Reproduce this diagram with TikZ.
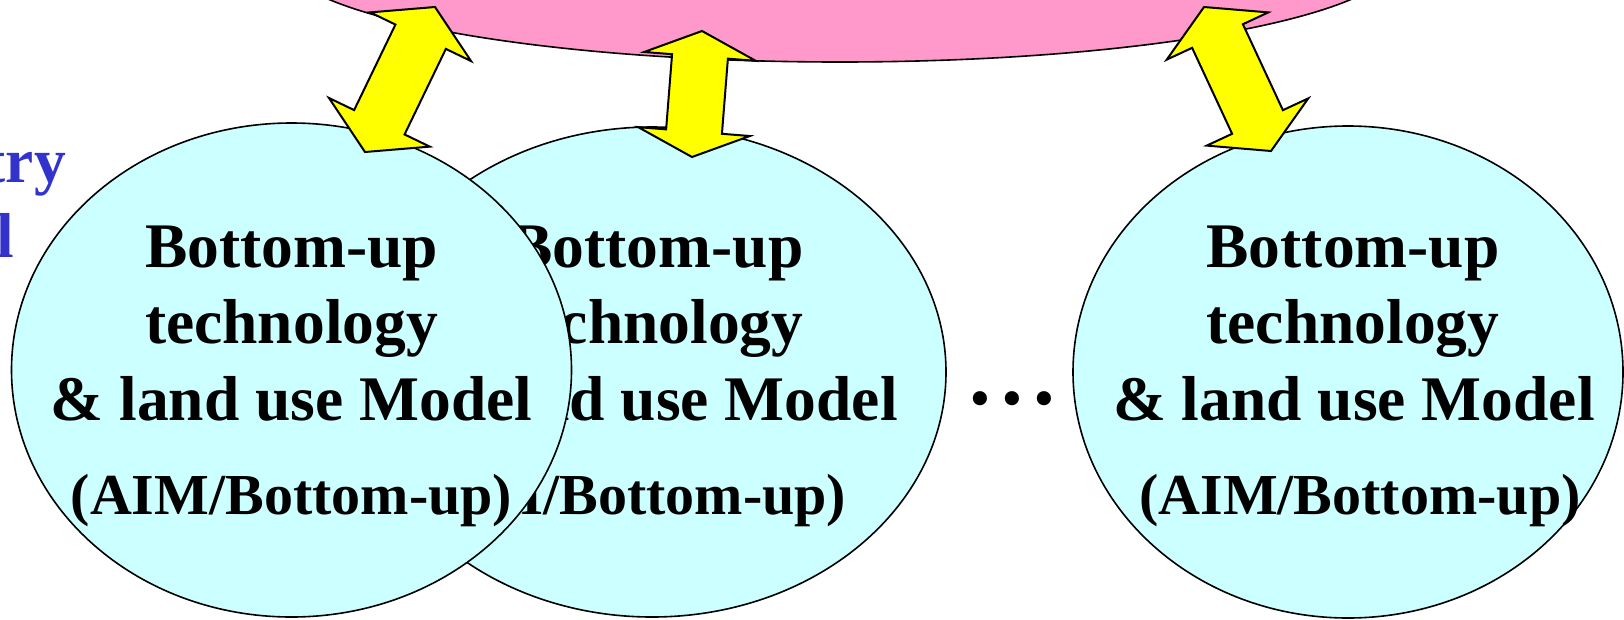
\documentclass[tikz,border=0pt]{standalone}
\usepackage{fontspec}
\setmainfont{Liberation Serif}
\usetikzlibrary{shapes.geometric,calc}

\definecolor{bubblecyan}{HTML}{CCFFFF}
\definecolor{globalpink}{HTML}{FF99CC}
\definecolor{linkyellow}{HTML}{FFFF00}
\definecolor{labelblue}{HTML}{3333CC}

% Two-headed block arrow between two named points:
% #1 start, #2 end, #3 head length, #4 prefix for helper coordinates
\newcommand\twowayarrow[4]{%
  \coordinate (#4-p) at ($(#1)!#3!(#2)$);
  \coordinate (#4-q) at ($(#2)!#3!(#1)$);
  \draw[linkarrow] (#2)
    -- ($(#4-q)!56pt!90:(#2)$) -- ($(#4-q)!28pt!90:(#2)$)
    -- ($(#4-p)!28pt!90:(#2)$) -- ($(#4-p)!56pt!90:(#2)$)
    -- (#1)
    -- ($(#4-p)!56pt!-90:(#2)$) -- ($(#4-p)!28pt!-90:(#2)$)
    -- ($(#4-q)!28pt!-90:(#2)$) -- ($(#4-q)!56pt!-90:(#2)$)
    -- cycle;
}

\tikzset{
  bubble/.style={ellipse, draw=black, line width=1.6pt, fill=bubblecyan, inner sep=0pt},
  globalbubble/.style={ellipse, draw=black, line width=1.6pt, fill=globalpink, inner sep=0pt},
  linkarrow/.style={draw=black, line width=2pt, fill=linkyellow},
  modeltext/.style={anchor=base, inner sep=0pt,
    font=\bfseries\fontsize{63.5pt}{76pt}\selectfont},
  tagtext/.style={anchor=base, inner sep=0pt,
    font=\bfseries\fontsize{58pt}{70pt}\selectfont},
  dotstext/.style={anchor=base, inner sep=0pt,
    font=\bfseries\fontsize{87pt}{90pt}\selectfont},
  sidetext/.style={anchor=base east, inner sep=0pt, text=labelblue,
    font=\bfseries\fontsize{63.5pt}{76pt}\selectfont},
}

\begin{document}
\begin{tikzpicture}[x=1pt, y=-1pt]
  \useasboundingbox (0,0) rectangle (1624,619);

  % global model at the top
  \node[globalbubble, minimum width=1120pt, minimum height=212pt] (global) at (840,-44) {};

  % middle regional model (behind the left one)
  \node[bubble, minimum width=588pt, minimum height=490pt] (bu2) at (652,372) {};
  \node[modeltext] (bu2a) at (657,267)   {Bottom-up};
  \node[modeltext] (bu2b) at (657,343.5) {technology};
  \node[modeltext] (bu2c) at (657,420)   {\& land use Model};
  \node[tagtext]   (bu2d) at (625.5,514) {(AIM/Bottom-up)};

  % left regional model
  \node[bubble, minimum width=560pt, minimum height=494pt] (bu1) at (291.5,370) {};
  \node[modeltext] (bu1a) at (291.5,267)   {Bottom-up};
  \node[modeltext] (bu1b) at (291.5,343.5) {technology};
  \node[modeltext] (bu1c) at (291.5,420)   {\& land use Model};
  \node[tagtext]   (bu1d) at (291.5,514)   {(AIM/Bottom-up)};

  % right regional model
  \node[bubble, minimum width=550pt, minimum height=492pt] (bu3) at (1348,372) {};
  \node[modeltext] (bu3a) at (1353,267)   {Bottom-up};
  \node[modeltext] (bu3b) at (1353,343.5) {technology};
  \node[modeltext] (bu3c) at (1354,420)   {\& land use Model};
  \node[tagtext]   (bu3d) at (1360,514)   {(AIM/Bottom-up)};

  % ellipsis between the regional models
  \node[dotstext] (more) at (1012.5,404) {.\hspace{10.25pt}.\hspace{10.25pt}.};

  % side labels running off the left edge
  \node[sidetext] (side1) at (66,182) {try};
  \node[sidetext] (side2) at (14,257) {l};

  % links between the global and the regional models
  \coordinate (l1s) at (365,152);  \coordinate (l1e) at (435,7);
  \coordinate (l2s) at (692,157);  \coordinate (l2e) at (702,31);
  \coordinate (l3s) at (1271,151); \coordinate (l3e) at (1204,7);
  \twowayarrow{l1s}{l1e}{33pt}{a1}
  \twowayarrow{l2s}{l2e}{25.5pt}{a2}
  \twowayarrow{l3s}{l3e}{32pt}{a3}
\end{tikzpicture}
\end{document}
